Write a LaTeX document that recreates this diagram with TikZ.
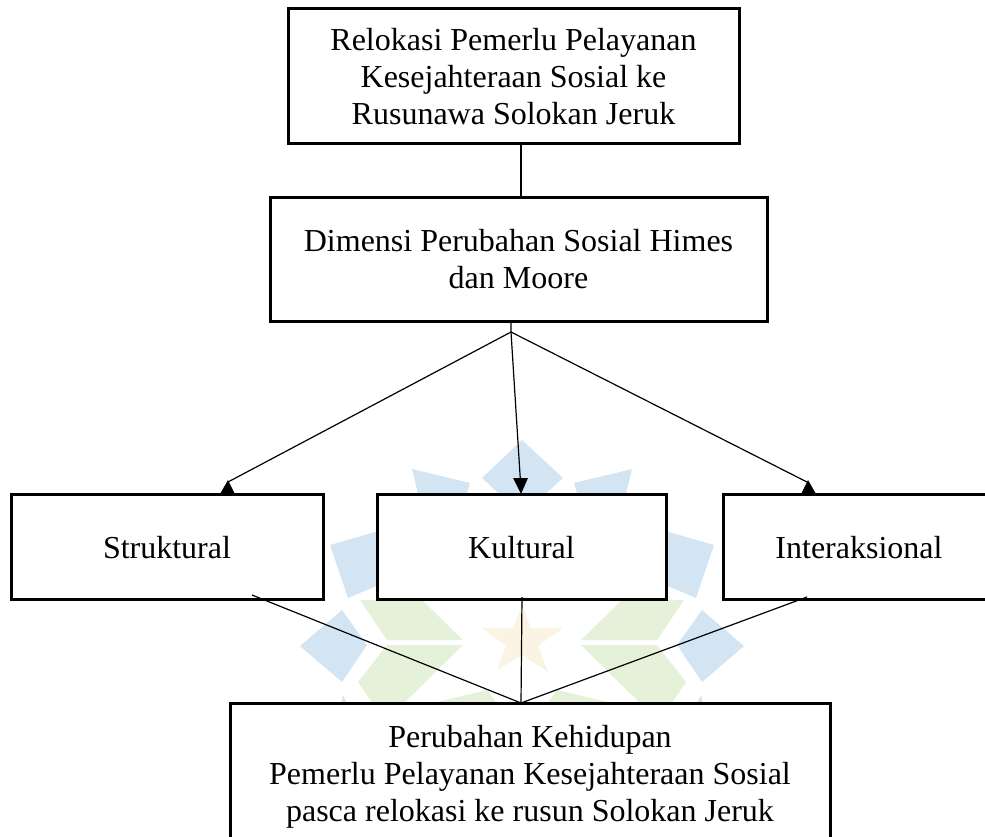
\documentclass[tikz,border=0pt]{standalone}
\usepackage{fontspec}
\setmainfont{Liberation Serif}
\usetikzlibrary{arrows.meta}
\definecolor{wmblue}{HTML}{D3E4F3}
\definecolor{wmgreen}{HTML}{E6F1DA}
\definecolor{wmstar}{HTML}{FBF3E4}
\tikzset{
  box/.style={draw=black,line width=3pt,fill=white,align=center,font=\fontsize{32}{37}\selectfont,inner sep=0pt,text=black},
  lab/.style={font=\fontsize{32}{37}\selectfont,inner sep=0pt,align=center,text=black},
  link/.style={draw=black,line width=1.2pt},
  tipfill/.style={fill=black,draw=none},
  wb/.style={fill=wmblue,draw=none},
  wg/.style={fill=wmgreen,draw=none},
}
\begin{document}
\begin{tikzpicture}[x=1pt,y=-1pt]
\path[use as bounding box] (0,0) rectangle (985,836);
\clip (0,0) rectangle (985,836);
% watermark
\fill[wb] (522,440) -- (563,478) -- (522,515) -- (482,478) -- cycle;
\foreach \s in {1,-1}{
  \begin{scope}[shift={(522,0)},xscale=\s]
  \fill[wb] (-110,469) -- (-52,483) -- (-60,510) -- (-100,510) -- cycle;
  \fill[wb] (-192,545) -- (-140,530) -- (-120,530) -- (-120,575) -- (-174,598) -- cycle;
  \fill[wb] (-222,646) -- (-180,610) -- (-155,645) -- (-180,682) -- cycle;
  \fill[wb] (-179,695) -- (-172,710) -- (-182,710) -- cycle;
  \fill[wg] (-162,600) -- (-100,600) -- (-59,640) -- (-135,640) -- cycle;
  \fill[wg] (-164,682) -- (-135,645) -- (-59,645) -- (-125,710) -- (-145,710) -- cycle;
  \fill[wg] (-85,702) -- (-35,690) -- (-20,710) -- (-85,710) -- cycle;
  \end{scope}
}
\fill[wmstar] (522,605) -- (531,628) -- (563,628) -- (538,646) -- (548,672) -- (522,655) -- (497,670) -- (506,646) -- (482,628) -- (513,628) -- cycle;
% boxes
\node[box,minimum width=451pt,minimum height=135pt] (reloc) at (513.5,75.5) {};
\node[box,minimum width=497pt,minimum height=124pt] (dimensi) at (518.5,259) {};
\node[box,minimum width=312pt,minimum height=105pt] (struk) at (167,546.5) {};
\node[box,minimum width=289pt,minimum height=105pt] (kult) at (521.5,546.5) {};
\node[box,minimum width=280pt,minimum height=105pt] (inter) at (863,546.5) {};
\node[box,minimum width=600pt,minimum height=160pt] (hasil) at (530.5,783) {};
% labels
\node[lab] (lreloc) at (513.5,76.5) {Relokasi Pemerlu Pelayanan\\Kesejahteraan Sosial ke\\Rusunawa Solokan Jeruk};
\node[lab] (ldim) at (518.5,259) {Dimensi Perubahan Sosial Himes\\dan Moore};
\node[lab] (lstruk) at (167,548) {Struktural};
\node[lab] (lkult) at (521.5,548) {Kultural};
\node[lab] (linter) at (859,548) {Interaksional};
\node[lab] (lhasil) at (530,777) {Perubahan Kehidupan\\Pemerlu Pelayanan Kesejahteraan Sosial\\pasca relokasi ke rusun Solokan Jeruk};
% connector coordinates
\coordinate (a1) at (521,143);
\coordinate (a2) at (521,197);
\coordinate (a3) at (630,197);
\coordinate (b0) at (511,321);
\coordinate (b1) at (511,332);
\coordinate (ts) at (228,482);
\coordinate (tk) at (521,490);
\coordinate (ti) at (807,482);
\coordinate (c1) at (252,595);
\coordinate (c2) at (522,597);
\coordinate (c3) at (807,597);
\coordinate (c0) at (521,703);
\draw[link] (a1) -- (a2);
\draw[black,line width=2pt] (a2) -- (a3);
\draw[link] (b0) -- (b1) -- (ts);
\draw[link] (b1) -- (ti);
\draw[link] (b1) -- (tk);
\fill[tipfill] (228,480) -- (235,494) -- (220,494) -- cycle;
\fill[tipfill] (808,480) -- (816,494) -- (801,494) -- cycle;
\fill[tipfill] (521,494) -- (513,478) -- (528,478) -- cycle;
\draw[link] (c1) -- (c0);
\draw[link] (c2) -- (c0);
\draw[link] (c3) -- (c0);
\end{tikzpicture}
\end{document}
